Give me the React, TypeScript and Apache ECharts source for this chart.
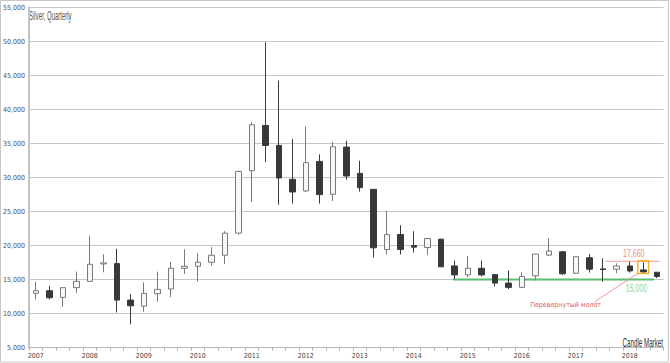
import React, { useEffect, useRef } from "react";
import * as echarts from "echarts";

const quarters = [
  "2007 Q1","2007 Q2","2007 Q3","2007 Q4",
  "2008 Q1","2008 Q2","2008 Q3","2008 Q4",
  "2009 Q1","2009 Q2","2009 Q3","2009 Q4",
  "2010 Q1","2010 Q2","2010 Q3","2010 Q4",
  "2011 Q1","2011 Q2","2011 Q3","2011 Q4",
  "2012 Q1","2012 Q2","2012 Q3","2012 Q4",
  "2013 Q1","2013 Q2","2013 Q3","2013 Q4",
  "2014 Q1","2014 Q2","2014 Q3","2014 Q4",
  "2015 Q1","2015 Q2","2015 Q3","2015 Q4",
  "2016 Q1","2016 Q2","2016 Q3","2016 Q4",
  "2017 Q1","2017 Q2","2017 Q3","2017 Q4",
  "2018 Q1","2018 Q2","2018 Q3",
];

const opens = [
  12960, 13350, 12370, 13800,
  14730, 17290, 17340, 11970,
  11080, 12910, 13600, 16650,
  16950, 17540, 18570, 21820,
  31000, 37650, 34720, 29730,
  28020, 32370, 27530, 34470,
  30610, 28260, 19410, 21610,
  20000, 19710, 20930, 17000,
  15680, 16650, 15730, 14470,
  13840, 15540, 18590, 19080,
  15920, 18200, 16560, 16510,
  16990, 16410, 16070,
];

const closes = [
  13350, 12320, 13800, 14730,
  17240, 17440, 11970, 11130,
  12960, 13550, 16650, 16950,
  17540, 18570, 21820, 30900,
  37750, 34720, 29930, 27870,
  32180, 27480, 34520, 30220,
  28510, 19660, 21610, 19410,
  19760, 21030, 16870, 15680,
  16650, 15680, 14470, 13840,
  15440, 18740, 19180, 15830,
  18350, 16510, 16460, 16990,
  16260, 16120, 15440,
];

const lows = [
  12070, 12070, 10990, 13050,
  14680, 16060, 10150, 8410,
  10250, 11720, 12410, 15810,
  14680, 17040, 17290, 21600,
  26400, 32270, 26010, 26160,
  27870, 26160, 26550, 29680,
  27920, 18240, 18680, 18680,
  18970, 18580, 16850, 15050,
  15340, 15440, 13990, 13600,
  13740, 14860, 18450, 15680,
  15830, 16020, 14710, 15920,
  16020, 16020, 15200,
];

const highs = [
  14680, 14090, 13850, 16160,
  21430, 18720, 19510, 12860,
  14580, 16160, 17590, 19460,
  18870, 19750, 22120, 31000,
  38140, 49880, 44250, 35700,
  37510, 33400, 35210, 35400,
  32470, 28300, 25090, 22980,
  22100, 21100, 21000, 17770,
  18450, 17770, 15780, 16310,
  16070, 18740, 21070, 19180,
  18350, 18740, 18110, 17380,
  17620, 17530, 16070,
];

const yMin = 5000;
const yMax = 55000;
const yStep = 5000;

const titleText = "Silver, Quarterly";
const brandText = "Candle Market";

const supportLevel = 15000;
const supportFrom = 30.9;
const supportTo = 45.8;
const supportLabel = "15,000";
const supportLabelAt = 44.5;

const resistanceLevel = 17660;
const resistanceFrom = 42.2;
const resistanceTo = 46.2;
const resistanceLabel = "17,660";
const resistanceLabelAt = 44.3;

const patternIndex = 45;
const patternTop = 17750;
const patternBottom = 15900;

const noteText = "Перевернутый молот";
const noteIndex = 39.25;
const noteValue = 11250;
const connectorFrom = [44.6, 15900];
const connectorTo = [41.4, 11730];

const narrow = "'Liberation Sans Narrow', 'DejaVu Sans Condensed', 'Liberation Sans', sans-serif";

export default function App() {
  const ref = useRef<HTMLDivElement>(null);

  useEffect(() => {
    if (!ref.current) return;
    const chart = echarts.init(ref.current, undefined, { renderer: "svg" });
    const candles = quarters.map((_, i) => [opens[i], closes[i], lows[i], highs[i]]);

    chart.setOption({
      animation: false,
      backgroundColor: "#ffffff",
      grid: { left: 25.5, right: 6.5, top: 7.5, bottom: 15.5, containLabel: false },
      xAxis: {
        type: "category",
        data: quarters,
        boundaryGap: true,
        axisLine: { show: true, lineStyle: { color: "#b8b8b8", width: 1 } },
        axisTick: { show: true, interval: 0, length: 3, lineStyle: { color: "#b0b0b0" } },
        axisLabel: {
          interval: 3,
          formatter: (v: string) => v.slice(0, 4),
          fontSize: 7,
          fontFamily: narrow,
          color: "#444",
          margin: 5,
        },
        splitLine: { show: false },
      },
      yAxis: {
        type: "value",
        min: yMin,
        max: yMax,
        interval: yStep,
        axisLine: { show: true, lineStyle: { color: "#c4c4c4", width: 2 } },
        axisTick: { show: false },
        axisLabel: {
          fontSize: 7,
          fontFamily: narrow,
          color: "#505050",
          margin: 4,
          formatter: (v: number) => v.toLocaleString("en-US"),
        },
        splitLine: { show: true, lineStyle: { color: "#c6c6c6", width: 1 } },
      },
      series: [
        {
          type: "candlestick",
          data: candles,
          barWidth: 6,
          itemStyle: {
            color: "#f8f8f8",
            color0: "#383838",
            borderColor: "#7a7a7a",
            borderColor0: "#3a3a3a",
            borderWidth: 1,
          },
        },
      ],
    });

    const px = (i: number, v: number) => {
      const a = chart.convertToPixel({ gridIndex: 0 }, [0, v]) as number[];
      const b = chart.convertToPixel({ gridIndex: 0 }, [1, v]) as number[];
      return [a[0] + i * (b[0] - a[0]), a[1]];
    };

    const sA = px(supportFrom, supportLevel);
    const sB = px(supportTo, supportLevel);
    const rA = px(resistanceFrom, resistanceLevel);
    const rB = px(resistanceTo, resistanceLevel);
    const sL = px(supportLabelAt, supportLevel);
    const rL = px(resistanceLabelAt, resistanceLevel);
    const pTL = px(patternIndex - 0.4, patternTop);
    const pBR = px(patternIndex + 0.4, patternBottom);
    const cA = px(connectorFrom[0], connectorFrom[1]);
    const cB = px(connectorTo[0], connectorTo[1]);
    const nP = px(noteIndex, noteValue);

    chart.setOption({
      graphic: [
        {
          type: "rect",
          shape: { x: 0.5, y: 0.5, width: 668, height: 361.5 },
          style: { fill: "none", stroke: "#c8c8c8", lineWidth: 1 },
          silent: true,
        },
        {
          type: "text",
          x: 29,
          y: 10,
          scaleX: 0.5,
          style: {
            text: titleText, fontSize: 12, fontFamily: "'Liberation Sans', sans-serif",
            fill: "#555", textAlign: "left", align: "left", textVerticalAlign: "top", verticalAlign: "top",
          },
        },
        {
          type: "text",
          x: 663,
          y: 337,
          scaleX: 0.52,
          style: {
            text: brandText, fontSize: 12, fontFamily: "'Liberation Sans', sans-serif",
            fill: "#333", textAlign: "right", align: "right", textVerticalAlign: "top", verticalAlign: "top",
          },
        },
        {
          type: "line",
          shape: { x1: sA[0], y1: sA[1], x2: sB[0], y2: sB[1] },
          style: { stroke: "#5cbf6e", lineWidth: 2 },
        },
        {
          type: "line",
          shape: { x1: rA[0], y1: rA[1], x2: rB[0], y2: rB[1] },
          style: { stroke: "#f4aeae", lineWidth: 1.2 },
        },
        {
          type: "text",
          x: rL[0],
          y: rL[1] - 3,
          scaleX: 0.7,
          style: {
            text: resistanceLabel, fontSize: 10, fontFamily: "'Liberation Sans', sans-serif",
            fill: "#f08a8a", textAlign: "center", align: "center", textVerticalAlign: "bottom", verticalAlign: "bottom",
          },
        },
        {
          type: "text",
          x: sL[0],
          y: sL[1] + 4,
          scaleX: 0.7,
          style: {
            text: supportLabel, fontSize: 10, fontFamily: "'Liberation Sans', sans-serif",
            fill: "#8fd58f", textAlign: "center", align: "center", textVerticalAlign: "top", verticalAlign: "top",
          },
        },
        {
          type: "rect",
          shape: { x: pTL[0], y: pTL[1], width: pBR[0] - pTL[0], height: pBR[1] - pTL[1] },
          style: { fill: "none", stroke: "#f5b323", lineWidth: 1.5 },
        },
        {
          type: "line",
          shape: { x1: cA[0], y1: cA[1], x2: cB[0], y2: cB[1] },
          style: { stroke: "#f07c7c", lineWidth: 0.8 },
        },
        {
          type: "text",
          x: nP[0],
          y: nP[1],
          style: {
            text: noteText, fontSize: 7, fontFamily: narrow,
            fill: "#e85858", textAlign: "center", align: "center", textVerticalAlign: "middle", verticalAlign: "middle",
          },
        },
      ],
    });

    return () => chart.dispose();
  }, []);

  return (
    <div
      ref={ref}
      style={{ position: "fixed", left: 0, top: 0, width: 670, height: 363, background: "#fff" }}
    />
  );
}
